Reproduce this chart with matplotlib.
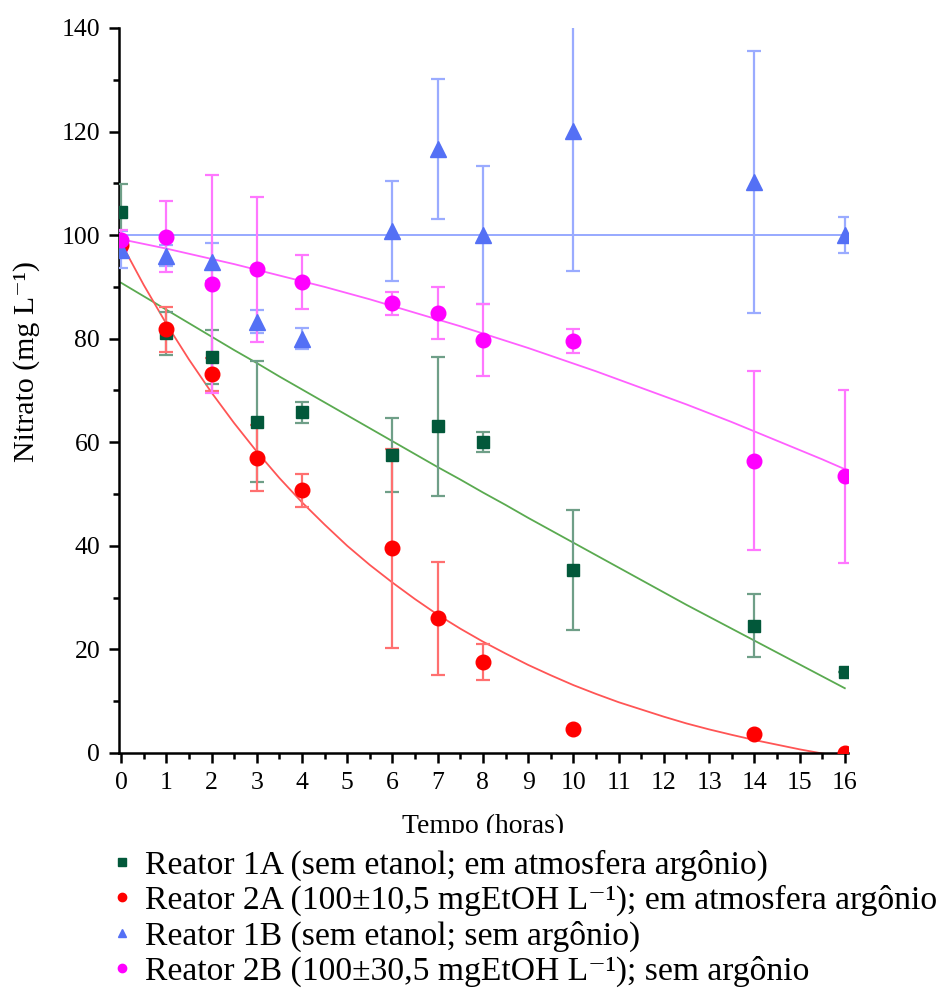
import matplotlib
matplotlib.use("Agg")
import matplotlib.pyplot as plt
from matplotlib.lines import Line2D
from matplotlib.patches import Rectangle
from matplotlib.ticker import MultipleLocator

plt.rcParams['font.family'] = ['Liberation Serif', 'DejaVu Serif']

### data
tempo = [0, 1, 2, 3, 4, 6, 7, 8, 10, 14, 16]

r1a = [104.4, 81.0, 76.5, 64.0, 65.8, 57.5, 63.1, 60.1, 35.3, 24.6, 15.6]
r1a_err = [5.4, 4.2, 5.2, 11.6, 2.0, 7.1, 13.4, 1.9, 11.6, 6.0, 0.0]

r2a = [98.0, 81.8, 73.1, 57.0, 50.7, 39.5, 26.0, 17.5, 4.6, 3.6, 0.0]
r2a_err = [1.0, 4.3, 3.2, 6.4, 3.2, 19.2, 10.9, 3.5, 0.0, 0.0, 0.0]

r1b = [97.2, 96.0, 94.8, 83.3, 80.0, 100.8, 116.6, 100.0, 120.1, 110.2, 100.0]
r1b_err = [3.5, 2.0, 3.7, 2.2, 2.0, 9.7, 13.5, 13.3, 27.0, 25.3, 3.4]

r2b = [99.0, 99.7, 90.6, 93.4, 90.9, 86.8, 85.0, 79.7, 79.6, 56.4, 53.4]
r2b_err = [2.0, 6.8, 21.0, 14.0, 5.2, 2.2, 5.0, 7.0, 2.3, 17.3, 16.7]

# fitted curves, every half hour
fit_x = [i / 2 for i in range(33)]
fit_1a = [90.8, 88.2, 85.6, 83.0, 80.4, 77.8, 75.3, 72.7, 70.2, 67.7, 65.2,
          62.7, 60.2, 57.7, 55.2, 52.8, 50.3, 47.9, 45.4, 43.0, 40.6, 38.2,
          35.8, 33.4, 31.0, 28.6, 26.3, 24.0, 21.7, 19.4, 17.1, 14.8, 12.5]
fit_2a = [98.5, 90.4, 82.9, 76.0, 69.6, 63.7, 58.2, 53.1, 48.4, 44.1, 40.0,
          36.3, 32.9, 29.7, 26.7, 24.0, 21.5, 19.2, 17.0, 15.0, 13.1, 11.4,
          9.8, 8.4, 7.0, 5.7, 4.55, 3.5, 2.5, 1.6, 0.7, -0.1, -0.8]
fit_1b = [100.0] * 33
fit_2b = [99.2, 98.3, 97.4, 96.4, 95.4, 94.4, 93.3, 92.2, 91.1, 90.0, 88.8,
          87.6, 86.3, 85.0, 83.7, 82.4, 81.0, 79.6, 78.2, 76.7, 75.2, 73.7,
          72.1, 70.5, 68.9, 67.3, 65.6, 63.9, 62.1, 60.3, 58.5, 56.7, 54.8]

labels = [
    "Reator 1A (sem etanol; em atmosfera argônio)",
    "Reator 2A (100±10,5 mgEtOH L⁻¹); em atmosfera argônio",
    "Reator 1B (sem etanol; sem argônio)",
    "Reator 2B (100±30,5 mgEtOH L⁻¹); sem argônio",
]

series = [
    # values, errors, fit, marker, marker colour, error colour, fit colour, size
    (r1a, r1a_err, fit_1a, 's', '#02583a', '#6f9f88', '#5aaa50', 9),
    (r2a, r2a_err, fit_2a, 'o', '#ff0000', '#ff7070', '#ff5555', 10.5),
    (r1b, r1b_err, fit_1b, '^', '#5470f5', '#9aabff', '#8fa2ff', 11),
    (r2b, r2b_err, fit_2b, 'o', '#ff00ff', '#ff77ff', '#ff60ff', 10.5),
]

fig = plt.figure(figsize=(9.37, 9.88), dpi=100)
ax = fig.add_axes([0.127, 0.2379, 0.778, 0.7338])

for vals, errs, fit, mk, mc, ec, lc, ms in series:
    ax.plot(fit_x, fit, '-', color=lc, lw=1.3, zorder=2)
for vals, errs, fit, mk, mc, ec, lc, ms in series:
    ax.errorbar(tempo, vals, yerr=errs, fmt='none', ecolor=ec, elinewidth=1.6,
                capsize=5, capthick=1.6, zorder=3)
    ax.plot(tempo, vals, mk, color=mc, ms=ms, mec=mc, zorder=4)

ax.set_xlim(-0.045, 16.07)
ax.set_ylim(0, 140)
ax.xaxis.set_major_locator(MultipleLocator(1))
ax.xaxis.set_minor_locator(MultipleLocator(0.5))
ax.yaxis.set_major_locator(MultipleLocator(20))
ax.yaxis.set_minor_locator(MultipleLocator(10))
ax.spines['top'].set_visible(False)
ax.spines['right'].set_visible(False)
for s in ('left', 'bottom'):
    ax.spines[s].set_linewidth(1.8)
ax.tick_params(which='major', direction='out', length=7.5, width=1.8,
               labelsize=18.5, pad=6)
ax.tick_params(which='minor', direction='out', length=4, width=1.8)

ax.set_xlabel("Tempo (horas)", fontsize=20, va='top')
ax.xaxis.set_label_coords(0.5, -0.0835)
ax.set_ylabel("Nitrato (mg L⁻¹)", fontsize=21.5)
ax.yaxis.set_label_coords(-0.108, 0.54)

# the axis title is cut off at its bottom in the original
fig.patches.append(Rectangle((0.35, 0.1468), 0.3, 0.0101, transform=fig.transFigure,
                             facecolor='white', edgecolor='none', zorder=10))

handles = [Line2D([], [], ls='none', marker=s[3], color=s[4], ms=6)
           for s in series]
fig.legend(handles, labels, loc='upper left', bbox_to_anchor=(0.119, 0.140),
           frameon=False, fontsize=24.2, handlelength=0.6, handletextpad=0.4,
           labelspacing=0.12, borderaxespad=0, borderpad=0)

fig.savefig("out.png", dpi=100)
